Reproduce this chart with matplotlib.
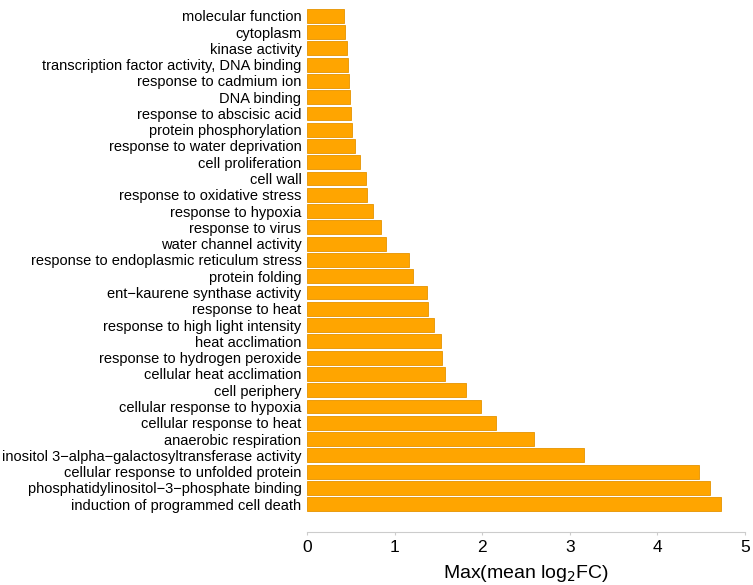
import matplotlib; matplotlib.use("Agg")
import matplotlib.pyplot as plt

plt.rcParams["font.family"] = ["Liberation Sans", "DejaVu Sans"]

# GO terms, top to bottom as shown
terms = [
    "molecular function", "cytoplasm", "kinase activity",
    "transcription factor activity, DNA binding", "response to cadmium ion",
    "DNA binding", "response to abscisic acid", "protein phosphorylation",
    "response to water deprivation", "cell proliferation", "cell wall",
    "response to oxidative stress", "response to hypoxia", "response to virus",
    "water channel activity", "response to endoplasmic reticulum stress",
    "protein folding", "ent\u2212kaurene synthase activity", "response to heat",
    "response to high light intensity", "heat acclimation",
    "response to hydrogen peroxide", "cellular heat acclimation", "cell periphery",
    "cellular response to hypoxia", "cellular response to heat",
    "anaerobic respiration",
    "inositol 3\u2212alpha\u2212galactosyltransferase activity",
    "cellular response to unfolded protein",
    "phosphatidylinositol\u22123\u2212phosphate binding",
    "induction of programmed cell death",
]
max_fc = [
    0.42, 0.43, 0.46, 0.47, 0.48, 0.49, 0.50, 0.51, 0.55, 0.60, 0.67,
    0.68, 0.75, 0.85, 0.90, 1.16, 1.21, 1.37, 1.38, 1.45, 1.53,
    1.54, 1.57, 1.81, 1.99, 2.16, 2.59, 3.16, 4.47, 4.60, 4.73,
]

n = len(terms)
ypos = [n - 1 - i for i in range(n)]

fig = plt.figure(figsize=(7.53, 5.85), dpi=100)
ax = fig.add_axes([0.4077, 0.0906, 0.5817, 0.900])
ax.barh(ypos, max_fc, height=0.85, color="#FFA500", edgecolor="#E59400", linewidth=0.6)

ax.set_yticks(ypos)
ax.set_yticklabels(terms, fontsize=10.5, color="black")
ax.tick_params(axis="y", length=0, pad=4)
ax.set_ylim(-1.71, n - 1 + 0.63)

ax.set_xlim(0, 5)
ax.set_xticks(range(6))
ax.tick_params(axis="x", labelsize=12.5, length=2.5, color="#CCCCCC", pad=3)
ax.set_xlabel("Max(mean log$_2$FC)", fontsize=14, labelpad=6)

for s in ["top", "right", "left"]:
    ax.spines[s].set_visible(False)
ax.spines["bottom"].set_color("#CCCCCC")

fig.savefig("out.png", dpi=100)
